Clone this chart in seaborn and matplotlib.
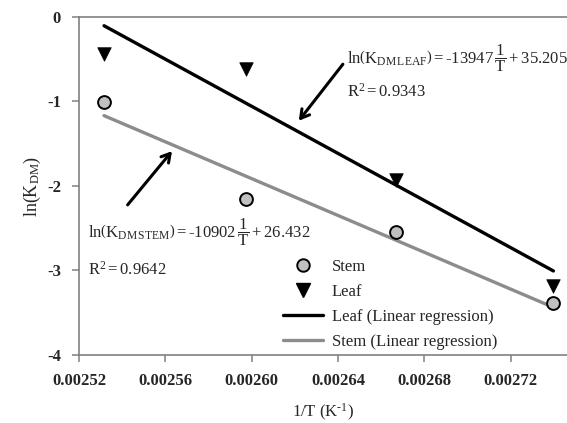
import numpy as np
import pandas as pd
import matplotlib
matplotlib.use("Agg")
import matplotlib.pyplot as plt
import seaborn as sns
from matplotlib.lines import Line2D

# ---- data ----
inv_T = [0.0025316, 0.0025974, 0.0026667, 0.0027397]
stem_lnK = [-1.01, -2.15, -2.54, -3.39]
leaf_lnK = [-0.44, -0.61, -1.93, -3.18]

leaf_slope, leaf_intercept, leaf_r2 = -13947, 35.205, 0.9343
stem_slope, stem_intercept, stem_r2 = -10902, 26.432, 0.9642

x_ticks = [0.00252, 0.00256, 0.00260, 0.00264, 0.00268, 0.00272]
y_ticks = [0, -1, -2, -3, -4]

sns.set_style("white")
plt.rcParams['font.family'] = ['Liberation Serif', 'DejaVu Serif']
plt.rcParams['mathtext.fontset'] = 'custom'
plt.rcParams['mathtext.rm'] = 'Liberation Serif'
plt.rcParams['mathtext.it'] = 'Liberation Serif:italic'
plt.rcParams['mathtext.bf'] = 'Liberation Serif:bold'
plt.rcParams['axes.unicode_minus'] = False

fig = plt.figure(figsize=(5.67, 4.23), dpi=100)
ax = fig.add_axes([0.1393, 0.1608, 0.8607, 0.799])

df = pd.DataFrame({"x": inv_T, "stem": stem_lnK, "leaf": leaf_lnK})
x_arr = np.array(inv_T)
df["leaf_fit"] = leaf_slope * x_arr + leaf_intercept
df["stem_fit"] = stem_slope * x_arr + stem_intercept

grey_line = "#8c8c8c"
sns.lineplot(data=df, x="x", y="leaf_fit", ax=ax, color="black", lw=2.4, zorder=2)
sns.lineplot(data=df, x="x", y="stem_fit", ax=ax, color=grey_line, lw=2.4, zorder=2)
sns.scatterplot(data=df, x="x", y="stem", ax=ax, marker="o", s=85,
                color="#c0c0c0", edgecolor="black", linewidth=1.4, zorder=3)
sns.scatterplot(data=df, x="x", y="leaf", ax=ax, marker="v", s=95,
                color="black", edgecolor="black", linewidth=0.5, zorder=3)

ax.set_xlim(0.00252, 0.002746)
ax.set_ylim(-4, 0)
ax.set_xticks(x_ticks)
ax.set_xticklabels([f"{v:.5f}" for v in x_ticks], fontsize=12, fontweight='bold')
ax.set_yticks(y_ticks)
ax.set_yticklabels([str(v) for v in y_ticks], fontsize=12, fontweight='bold')

spine_c = "#808080"
for s in ["left", "bottom", "top"]:
    ax.spines[s].set_color(spine_c)
    ax.spines[s].set_linewidth(1.2)
ax.spines["right"].set_visible(False)
ax.tick_params(axis='both', direction='out', length=5, width=1.1, color=spine_c,
               left=True, bottom=True, pad=8)

H = "\u2010"  # hyphen as in the reference text
ax.set_xlabel(r"1/T (K$^{" + H + r"1}$)", fontsize=12, labelpad=9)
ax.set_ylabel(r"$\mathrm{ln(K_{DM})}$", fontsize=13, labelpad=3)

# equations
ax.text(0.002644, -0.485,
        r"$\mathrm{ln}\left(\mathrm{K}_{\mathrm{DM\,LEAF}}\right)=" + H + r"\mathrm{13947}\,\dfrac{\mathrm{1}}{\mathrm{T}}+\mathrm{35.205}$",
        fontsize=12, ha='left', va='center')
ax.text(0.002644, -0.88, r"$\mathrm{R^{2}=0.9343}$", fontsize=12, ha='left', va='center')
ax.text(0.0025242, -2.544,
        r"$\mathrm{ln}\left(\mathrm{K}_{\mathrm{DM\,STEM}}\right)=" + H + r"\mathrm{10902}\,\dfrac{\mathrm{1}}{\mathrm{T}}+\mathrm{26.432}$",
        fontsize=12, ha='left', va='center')
ax.text(0.0025242, -2.99, r"$\mathrm{R^{2}=0.9642}$", fontsize=12, ha='left', va='center')

# arrows
ax.annotate("", xy=(0.002621, -1.254), xytext=(0.002643, -0.533),
            arrowprops=dict(arrowstyle="->,head_length=0.6,head_width=0.35", lw=2.2, color="black"))
ax.annotate("", xy=(0.0025639, -1.562), xytext=(0.0025417, -2.249),
            arrowprops=dict(arrowstyle="->,head_length=0.6,head_width=0.35", lw=2.2, color="black"))

handles = [
    Line2D([], [], marker='o', ls='none', markersize=9, markerfacecolor="#c0c0c0",
           markeredgecolor='black', markeredgewidth=1.4),
    Line2D([], [], marker='v', ls='none', markersize=9.5, color='black'),
    Line2D([], [], color='black', lw=2.4),
    Line2D([], [], color=grey_line, lw=2.4),
]
labels = ["Stem", "Leaf", "Leaf (Linear regression)", "Stem (Linear regression)"]
ax.legend(handles, labels, loc='upper left', bbox_to_anchor=(0.405, 0.305),
          frameon=False, fontsize=12, handlelength=2.4, handletextpad=0.5,
          labelspacing=0.55, borderaxespad=0)

fig.savefig("out.png", dpi=100)
